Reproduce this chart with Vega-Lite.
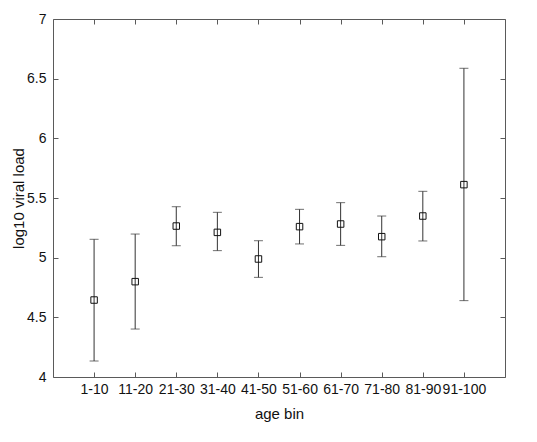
{
  "$schema": "https://vega.github.io/schema/vega-lite/v6.json",
  "width": 452,
  "height": 358,
  "autosize": {"type": "none"},
  "padding": {"left": 53, "top": 19, "right": 32, "bottom": 65},
  "background": "white",
  "config": {
    "view": {"stroke": "#5a5a5a", "strokeWidth": 1},
    "font": "Liberation Sans",
    "axis": {"labelFont": "Liberation Sans", "titleFont": "Liberation Sans", "labelColor": "#111", "titleColor": "#111", "titleFontWeight": "normal", "labelFontSize": 14, "titleFontSize": 15, "tickColor": "#5a5a5a", "grid": false, "domain": false}
  },
  "data": {"values": [
    {"age": "1-10", "mean": 4.645, "lo": 4.134, "hi": 5.154},
    {"age": "11-20", "mean": 4.799, "lo": 4.402, "hi": 5.198},
    {"age": "21-30", "mean": 5.265, "lo": 5.100, "hi": 5.427},
    {"age": "31-40", "mean": 5.212, "lo": 5.059, "hi": 5.380},
    {"age": "41-50", "mean": 4.989, "lo": 4.835, "hi": 5.142},
    {"age": "51-60", "mean": 5.260, "lo": 5.115, "hi": 5.405},
    {"age": "61-70", "mean": 5.282, "lo": 5.103, "hi": 5.461},
    {"age": "71-80", "mean": 5.176, "lo": 5.008, "hi": 5.349},
    {"age": "81-90", "mean": 5.349, "lo": 5.140, "hi": 5.556},
    {"age": "91-100", "mean": 5.612, "lo": 4.640, "hi": 6.587}
  ]},
  "resolve": {"axis": {"x": "independent", "y": "independent"}},
  "layer": [
    {
      "mark": {"type": "rule", "color": "#333", "strokeWidth": 1},
      "encoding": {
        "x": {"field": "age", "type": "nominal", "sort": null, "scale": {"type": "point", "padding": 1},
              "axis": {"orient": "bottom", "title": "age bin", "labelAngle": 0, "tickSize": -5, "labelPadding": 10, "titleBaseline": "middle", "titleY": 36}},
        "y": {"field": "lo", "type": "quantitative", "scale": {"domain": [4, 7], "nice": false, "zero": false},
              "axis": {"orient": "left", "title": "log10 viral load", "values": [4, 4.5, 5, 5.5, 6, 6.5, 7], "format": ".1~f", "tickSize": -5, "labelPadding": 12, "titleX": -35, "titleY": 179, "titleBaseline": "middle", "titleAnchor": null}},
        "y2": {"field": "hi"}
      }
    },
    {
      "mark": {"type": "tick", "orient": "horizontal", "color": "#333", "size": 9, "thickness": 1},
      "encoding": {
        "x": {"field": "age", "type": "nominal", "sort": null, "scale": {"type": "point", "padding": 1}, "axis": null},
        "y": {"field": "lo", "type": "quantitative", "axis": null}
      }
    },
    {
      "mark": {"type": "tick", "orient": "horizontal", "color": "#333", "size": 9, "thickness": 1},
      "encoding": {
        "x": {"field": "age", "type": "nominal", "sort": null, "scale": {"type": "point", "padding": 1}, "axis": null},
        "y": {"field": "hi", "type": "quantitative", "axis": null}
      }
    },
    {
      "mark": {"type": "point", "shape": "square", "filled": false, "stroke": "#111", "strokeWidth": 1, "size": 42, "fill": "white", "fillOpacity": 0, "opacity": 1},
      "encoding": {
        "x": {"field": "age", "type": "nominal", "sort": null, "scale": {"type": "point", "padding": 1}, "axis": null},
        "y": {"field": "mean", "type": "quantitative", "axis": null}
      }
    },
    {
      "mark": {"type": "point", "opacity": 0},
      "encoding": {
        "x": {"field": "age", "type": "nominal", "sort": null, "scale": {"type": "point", "padding": 1},
              "axis": {"orient": "top", "title": null, "labels": false, "tickSize": -5}},
        "y": {"field": "mean", "type": "quantitative",
              "axis": {"orient": "right", "title": null, "labels": false, "values": [4, 4.5, 5, 5.5, 6, 6.5, 7], "tickSize": -5}}
      }
    }
  ]
}
